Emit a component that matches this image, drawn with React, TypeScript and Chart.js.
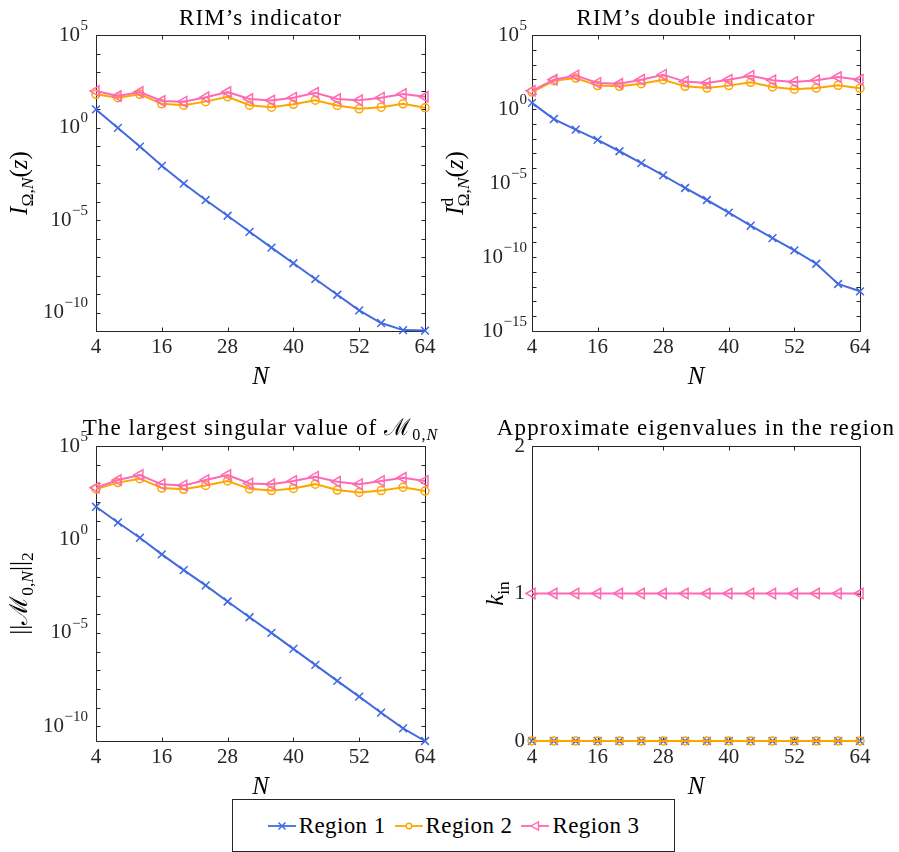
import React, { useEffect, useRef } from 'react';
import { Chart, registerables } from 'chart.js';
Chart.register(...registerables);

// ---------------- data ----------------
const N_VALUES = [4, 8, 12, 16, 20, 24, 28, 32, 36, 40, 44, 48, 52, 56, 60, 64];
const X_TICKS = [4, 16, 28, 40, 52, 64];
const REGION_LABELS = ['Region 1', 'Region 2', 'Region 3'];

// RIM's indicator
const IND_R1 = [9.5, 0.95, 0.093, 8.5e-3, 9.3e-4, 1.2e-4, 1.7e-5, 2.3e-6, 3.2e-7, 4.6e-8, 6.5e-9, 9.1e-10, 1.3e-10, 2.7e-11, 1.12e-11, 1.05e-11];
const IND_R2 = [62, 41, 62, 19, 16, 25, 46, 16, 12.6, 18, 30, 15.5, 10.2, 12.6, 19, 11.7];
const IND_R3 = [93, 50, 83, 27, 25, 43, 83, 35, 29, 41, 76, 35, 30, 41, 65, 46];

// RIM's double indicator
const DBL_R1 = [2.6, 0.21, 0.04, 8.1e-3, 1.4e-3, 2.2e-4, 3.3e-5, 4.6e-6, 7.1e-7, 1.0e-7, 1.3e-8, 1.9e-9, 2.8e-10, 3.5e-11, 1.5e-12, 4.8e-13];
const DBL_R2 = [14, 81, 123, 38, 34, 51, 95, 34, 26, 38, 63, 31, 22, 26, 40, 25];
const DBL_R3 = [17, 95, 186, 58, 51, 95, 209, 71, 58, 95, 178, 87, 66, 87, 145, 95];

// largest singular value
const SV_R1 = [56, 8.1, 1.23, 0.16, 0.023, 3.5e-3, 4.8e-4, 6.9e-5, 1.0e-5, 1.4e-6, 1.95e-7, 2.7e-8, 3.9e-9, 5.4e-10, 7.8e-11, 1.65e-11];
const SV_R2 = [500, 1100, 1780, 560, 480, 780, 1350, 510, 410, 540, 910, 440, 330, 410, 620, 390];
const SV_R3 = [590, 1510, 2820, 890, 780, 1510, 2820, 1000, 890, 1350, 2290, 1230, 910, 1350, 2000, 1350];

// approximate eigenvalues count
const K_R1 = [0, 0, 0, 0, 0, 0, 0, 0, 0, 0, 0, 0, 0, 0, 0, 0];
const K_R2 = [0, 0, 0, 0, 0, 0, 0, 0, 0, 0, 0, 0, 0, 0, 0, 0];
const K_R3 = [1, 1, 1, 1, 1, 1, 1, 1, 1, 1, 1, 1, 1, 1, 1, 1];

// y tick labels (exponents of 10 for the log panels, values for the linear one)
const IND_Y_LABELED = [5, 0, -5, -10];
const DBL_Y_LABELED = [5, 0, -5, -10, -15];
const SV_Y_LABELED = [5, 0, -5, -10];
const K_Y_TICKS = [0, 1, 2];

// ---------------- styles ----------------
const AXIS = '#262626';
const SERIF = '"Liberation Serif", "DejaVu Serif", serif';
const SERIES_STYLE = [
  { color: '#4169E1', pointStyle: 'crossRot', rotation: 0, radius: 5.5 },
  { color: '#FFA500', pointStyle: 'circle', rotation: 0, radius: 4 },
  { color: '#FF69B4', pointStyle: 'triangle', rotation: -90, radius: 6 },
];

type Piece = { t: string; it?: boolean; pos?: 'sub' | 'sup'; stack?: boolean };

function decades(lo: number, hi: number): number[] {
  const out: number[] = [];
  for (let e = lo; e <= hi; e++) out.push(Math.pow(10, e));
  return out;
}

function drawRich(
  ctx: CanvasRenderingContext2D,
  pieces: Piece[],
  cx: number,
  cy: number,
  size: number,
  rotation: number,
  spacing: number
) {
  const placed: { p: Piece; x: number; y: number; font: string }[] = [];
  let x = 0;
  let pendingMin = 0;
  ctx.save();
  (ctx as any).letterSpacing = spacing + 'px';
  for (const p of pieces) {
    const s = p.pos ? size * 0.7 : size;
    const font = `${p.it ? 'italic ' : ''}${s}px ${SERIF}`;
    ctx.font = font;
    const w = ctx.measureText(p.t).width;
    if (!p.pos) x = Math.max(x, pendingMin);
    const base = size * 0.33;
    const y = p.pos === 'sub' ? base + size * 0.24 : p.pos === 'sup' ? base - size * 0.42 : base;
    placed.push({ p, x, y, font });
    if (p.stack) pendingMin = x + w;
    else x += w;
  }
  x = Math.max(x, pendingMin);
  const total = x;
  ctx.translate(cx, cy);
  ctx.rotate(rotation);
  ctx.fillStyle = '#000';
  ctx.textBaseline = 'alphabetic';
  ctx.textAlign = 'left';
  for (const q of placed) {
    ctx.font = q.font;
    ctx.fillText(q.p.t, q.x - total / 2, q.y);
  }
  ctx.restore();
}

interface PanelSpec {
  left: number;
  top: number;
  width: number;
  height: number;
  padTop: number;
  padRight: number;
  yWidth: number;
  xHeight: number;
  xTitlePad: number;
  yTickPad: number;
  yType: 'logarithmic' | 'linear';
  yMin: number;
  yMax: number;
  yTicks: number[];
  yLabeled: number[];
  series: number[][];
  title: Piece[];
  titleY: number;
  ylabel: Piece[];
  ylabelX: number;
  ylabelSize: number;
}

function Panel({ spec }: { spec: PanelSpec }) {
  const ref = useRef<HTMLCanvasElement | null>(null);
  useEffect(() => {
    if (!ref.current) return;
    const decor = {
      id: 'decor' + spec.left + '_' + spec.top,
      beforeDatasetsDraw(chart: any) {
        const { ctx, chartArea: a, scales } = chart;
        const L = Math.round(a.left) + 0.5;
        const R = Math.round(a.right) + 0.5;
        const T = Math.round(a.top) + 0.5;
        const B = Math.round(a.bottom) + 0.5;
        const tl = 4;
        ctx.save();
        ctx.strokeStyle = AXIS;
        ctx.lineWidth = 1;
        ctx.beginPath();
        ctx.rect(L, T, R - L, B - T);
        for (const t of scales.x.ticks) {
          const px = Math.round(scales.x.getPixelForValue(t.value)) + 0.5;
          ctx.moveTo(px, B);
          ctx.lineTo(px, B - tl);
          ctx.moveTo(px, T);
          ctx.lineTo(px, T + tl);
        }
        for (const t of scales.y.ticks) {
          const py = Math.round(scales.y.getPixelForValue(t.value)) + 0.5;
          ctx.moveTo(L, py);
          ctx.lineTo(L + tl, py);
          ctx.moveTo(R, py);
          ctx.lineTo(R - tl, py);
        }
        ctx.stroke();
        ctx.restore();
      },
      afterDraw(chart: any) {
        const { ctx, chartArea: a, scales } = chart;
        // y tick labels with real superscripts
        ctx.save();
        ctx.fillStyle = AXIS;
        ctx.textBaseline = 'middle';
        ctx.textAlign = 'right';
        const xr = a.left - spec.yTickPad;
        for (const v of spec.yLabeled) {
          if (spec.yType === 'linear') {
            const py = scales.y.getPixelForValue(v);
            ctx.font = `21px ${SERIF}`;
            ctx.fillText(String(v), xr, py);
          } else {
            const py = scales.y.getPixelForValue(Math.pow(10, v));
            const ex = v < 0 ? '\u2212' + String(-v) : String(v);
            ctx.font = `15px ${SERIF}`;
            const we = ctx.measureText(ex).width;
            ctx.fillText(ex, xr, py - 9);
            ctx.font = `21px ${SERIF}`;
            ctx.fillText('10', xr - we - 0.5, py);
          }
        }
        ctx.restore();
        drawRich(ctx, spec.title, (a.left + a.right) / 2, spec.titleY, 23, 0, 1.1);
        drawRich(ctx, spec.ylabel, spec.ylabelX, (a.top + a.bottom) / 2, spec.ylabelSize, -Math.PI / 2, 0);
      },
    };

    const datasets = SERIES_STYLE.map((st, i) => ({
      label: REGION_LABELS[i],
      data: N_VALUES.map((n, j) => ({ x: n, y: spec.series[i][j] })),
      borderColor: st.color,
      backgroundColor: st.color,
      borderWidth: 2,
      pointStyle: st.pointStyle as any,
      rotation: st.rotation,
      pointRadius: st.radius,
      pointBorderWidth: 1.5,
      pointBackgroundColor: 'rgba(0,0,0,0)',
      pointBorderColor: st.color,
      clip: false as any,
      order: 2 - i,
      tension: 0,
    }));

    const chart = new Chart(ref.current, {
      type: 'line',
      data: { datasets },
      options: {
        animation: false,
        responsive: false,
        events: [],
        layout: { padding: { top: spec.padTop, right: spec.padRight, left: 0, bottom: 0 } },
        plugins: { legend: { display: false }, tooltip: { enabled: false }, title: { display: false } },
        scales: {
          x: {
            type: 'linear',
            min: 4,
            max: 64,
            afterBuildTicks: (s: any) => {
              s.ticks = X_TICKS.map((v) => ({ value: v }));
            },
            afterFit: (s: any) => {
              s.height = spec.xHeight;
              s.paddingLeft = 0;
              s.paddingRight = 0;
            },
            ticks: {
              autoSkip: false,
              maxRotation: 0,
              padding: 4,
              color: AXIS,
              font: { family: SERIF, size: 21 },
              callback: (v: any) => String(v),
            },
            grid: { display: false, drawTicks: false },
            border: { display: false },
            title: {
              display: true,
              text: 'N',
              color: '#000',
              font: { family: SERIF, size: 25, style: 'italic' },
              padding: { top: 0, bottom: spec.xTitlePad },
            },
          },
          y: {
            type: spec.yType,
            min: spec.yMin,
            max: spec.yMax,
            afterBuildTicks: (s: any) => {
              s.ticks = spec.yTicks.map((v) => ({ value: v }));
            },
            afterFit: (s: any) => {
              s.width = spec.yWidth;
              s.paddingTop = 0;
              s.paddingBottom = 0;
            },
            ticks: { display: false, autoSkip: false },
            grid: { display: false, drawTicks: false },
            border: { display: false },
          },
        },
      } as any,
      plugins: [decor as any],
    });
    return () => chart.destroy();
  }, [spec]);
  return (
    <canvas
      ref={ref}
      width={spec.width}
      height={spec.height}
      style={{ position: 'absolute', left: spec.left, top: spec.top, width: spec.width, height: spec.height }}
    />
  );
}

const PANELS: PanelSpec[] = [
  {
    left: 0, top: 0, width: 450, height: 400, padTop: 35, padRight: 25, yWidth: 96, xHeight: 69, xTitlePad: 8, yTickPad: 8,
    yType: 'logarithmic', yMin: 1e-11, yMax: 1e5, yTicks: decades(-11, 5), yLabeled: IND_Y_LABELED,
    series: [IND_R1, IND_R2, IND_R3],
    title: [{ t: 'RIM’s indicator' }], titleY: 17,
    ylabel: [{ t: 'I', it: true }, { t: 'Ω,', pos: 'sub' }, { t: 'N', it: true, pos: 'sub' }, { t: '(' }, { t: 'z', it: true }, { t: ')' }],
    ylabelX: 19, ylabelSize: 25,
  },
  {
    left: 440, top: 0, width: 459, height: 400, padTop: 35, padRight: 39, yWidth: 92, xHeight: 69, xTitlePad: 8, yTickPad: 5,
    yType: 'logarithmic', yMin: 1e-15, yMax: 1e5, yTicks: decades(-15, 5), yLabeled: DBL_Y_LABELED,
    series: [DBL_R1, DBL_R2, DBL_R3],
    title: [{ t: 'RIM’s double indicator' }], titleY: 17,
    ylabel: [{ t: 'I', it: true }, { t: 'd', pos: 'sup', stack: true }, { t: 'Ω,', pos: 'sub' }, { t: 'N', it: true, pos: 'sub' }, { t: '(' }, { t: 'z', it: true }, { t: ')' }],
    ylabelX: 15, ylabelSize: 25,
  },
  {
    left: 0, top: 400, width: 450, height: 420, padTop: 46, padRight: 25, yWidth: 96, xHeight: 79, xTitlePad: 18, yTickPad: 8,
    yType: 'logarithmic', yMin: 1.65e-11, yMax: 1e5, yTicks: decades(-10, 5), yLabeled: SV_Y_LABELED,
    series: [SV_R1, SV_R2, SV_R3],
    title: [{ t: 'The largest singular value of ' }, { t: 'ℳ' }, { t: '0,', pos: 'sub' }, { t: 'N', it: true, pos: 'sub' }], titleY: 27,
    ylabel: [{ t: '||' }, { t: 'ℳ' }, { t: '0,', pos: 'sub' }, { t: 'N', it: true, pos: 'sub' }, { t: '||' }, { t: '2', pos: 'sub' }],
    ylabelX: 19, ylabelSize: 25,
  },
  {
    left: 440, top: 400, width: 459, height: 420, padTop: 46, padRight: 39, yWidth: 92, xHeight: 79, xTitlePad: 18, yTickPad: 7,
    yType: 'linear', yMin: 0, yMax: 2, yTicks: K_Y_TICKS, yLabeled: K_Y_TICKS,
    series: [K_R1, K_R2, K_R3],
    title: [{ t: 'Approximate eigenvalues in the region' }], titleY: 27,
    ylabel: [{ t: 'k', it: true }, { t: 'in', pos: 'sub' }],
    ylabelX: 55, ylabelSize: 25,
  },
];

function LegendIcon({ i }: { i: number }) {
  const c = SERIES_STYLE[i].color;
  return (
    <svg width={28} height={14} style={{ display: 'block' }}>
      <line x1={0} y1={7} x2={28} y2={7} stroke={c} strokeWidth={1.8} />
      {i === 0 && (
        <g stroke={c} strokeWidth={1.5}>
          <line x1={10.5} y1={3.5} x2={17.5} y2={10.5} />
          <line x1={10.5} y1={10.5} x2={17.5} y2={3.5} />
        </g>
      )}
      {i === 1 && <circle cx={14} cy={7} r={2.8} fill="#fff" stroke={c} strokeWidth={1.4} />}
      {i === 2 && <polygon points="10,7 17.5,3 17.5,11" fill="#fff" stroke={c} strokeWidth={1.4} />}
    </svg>
  );
}

export default function App() {
  return (
    <div style={{ position: 'absolute', left: 0, top: 0, width: 899, height: 852, background: '#fff', overflow: 'hidden' }}>
      {PANELS.map((p, k) => (
        <Panel key={k} spec={p} />
      ))}
      <div
        style={{
          position: 'absolute', left: 232, top: 799, width: 443, height: 53, boxSizing: 'border-box',
          border: `1px solid ${AXIS}`, background: '#fff', display: 'flex', alignItems: 'center', justifyContent: 'center',
          fontFamily: SERIF, fontSize: 23, letterSpacing: '0.4px', color: '#000', zIndex: 2,
        }}
      >
        {REGION_LABELS.map((lab, i) => (
          <div key={lab} style={{ display: 'flex', alignItems: 'center', marginLeft: i ? 9 : 0 }}>
            <LegendIcon i={i} />
            <span style={{ marginLeft: 3 }}>{lab}</span>
          </div>
        ))}
      </div>
    </div>
  );
}
